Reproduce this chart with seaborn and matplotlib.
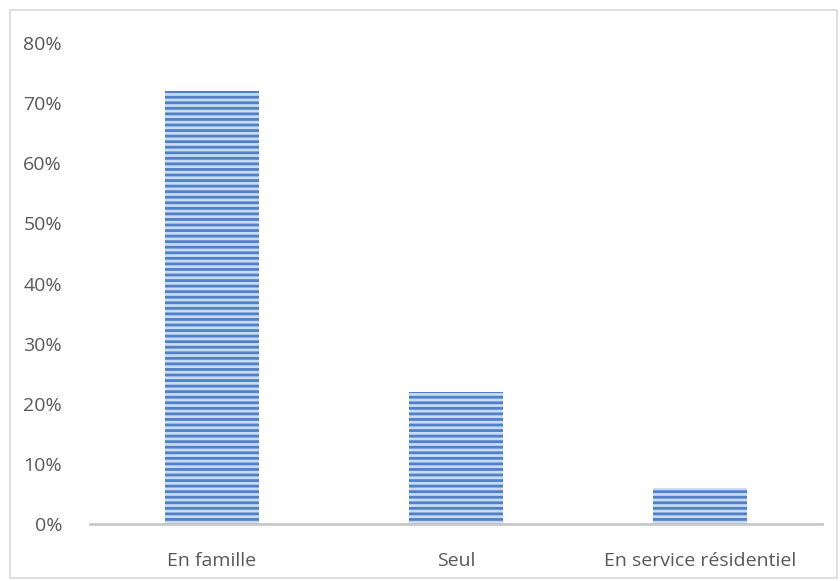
import pandas as pd
import matplotlib.pyplot as plt
import seaborn as sns
from matplotlib.patches import Rectangle
from matplotlib.ticker import PercentFormatter

categories = ['En famille', 'Seul', 'En service résidentiel']
shares = [72, 22, 6]

df = pd.DataFrame({'cat': categories, 'val': shares})

sns.set_style('white')
plt.rcParams['font.family'] = ['Open Sans', 'DejaVu Sans']
plt.rcParams['hatch.linewidth'] = 2.0

fig = plt.figure(figsize=(8.4, 5.81), dpi=100)
ax = fig.add_axes([0.107, 0.098, 0.872, 0.828])

sns.barplot(x='cat', y='val', data=df, color='#c8dbf2', width=0.385,
            saturation=1, ax=ax, zorder=2)
for p in ax.patches:
    p.set_hatch('---')
    p.set_edgecolor('#4f80c8')
    p.set_linewidth(0)

ax.set_ylim(0, 80)
ax.set_yticks(range(0, 81, 10))
ax.yaxis.set_major_formatter(PercentFormatter(decimals=0))
ax.set_xlabel('')
ax.set_ylabel('')
ax.tick_params(axis='y', length=0, pad=20, labelsize=14, labelcolor='#595959')
ax.tick_params(axis='x', length=0, pad=20, labelsize=14, labelcolor='#595959')

for s in ['top', 'right', 'left']:
    ax.spines[s].set_visible(False)
ax.spines['bottom'].set_color('#c8c8c8')
ax.spines['bottom'].set_linewidth(2)

fig.patches.append(Rectangle((0.012, 0.005), 0.985, 0.978, transform=fig.transFigure,
                             fill=False, edgecolor='#d9d9d9', linewidth=1.2))

plt.savefig('out.png', dpi=100)
